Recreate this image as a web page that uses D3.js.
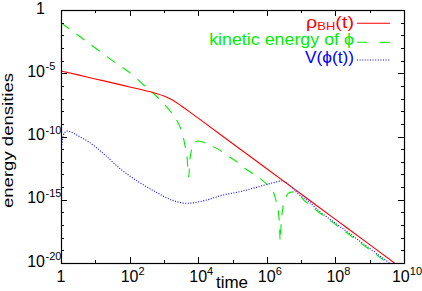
<!DOCTYPE html>
<html>
<head>
<meta charset="UTF-8">
<script src="https://cdnjs.cloudflare.com/ajax/libs/d3/7.8.5/d3.min.js"></script>
<style>
  body { margin: 0; background: #fff; }
  svg text { font-family: "Liberation Sans", Arial, sans-serif; }
</style>
</head>
<body>
<svg id="chart" width="422" height="291"></svg>
<script>
// values, as log10 of time and log10 of energy density
var rhoLogT = [0, 0.5, 1, 1.5, 2, 2.5, 2.75, 3, 3.25, 3.5, 3.75, 4, 5, 6, 7, 8, 9, 9.72];
var rhoLogV = [-4.82, -5.13, -5.45, -5.76, -6.08, -6.4, -6.58, -6.8, -7.12, -7.57, -8.05, -8.55, -10.55, -12.55, -14.55, -16.55, -18.55, -20];

var kinLogT = [0, 0.5, 1, 1.5, 2, 2.5, 2.75, 3, 3.25, 3.42, 3.55, 3.62, 3.68, 3.72, 3.76, 3.82, 3.9, 4, 4.15, 4.3, 4.54, 4.83, 5.12, 5.36, 5.7, 5.95, 6.1, 6.2, 6.28, 6.34, 6.37, 6.39, 6.42, 6.47, 6.55, 6.65, 6.78, 6.92, 7.05, 7.2, 7.5, 8, 8.5, 9, 9.52];
var kinLogV = [-1.02, -2, -3, -4, -4.95, -6.14, -6.74, -7.42, -8.23, -8.96, -9.88, -10.8, -11.8, -13.2, -11.8, -10.9, -10.45, -10.35, -10.45, -10.65, -10.94, -11.46, -11.99, -12.51, -13.12, -13.65, -14.05, -14.45, -15.2, -16, -17, -18.3, -16.8, -15.6, -14.85, -14.45, -14.38, -14.5, -14.95, -15.3, -15.95, -16.95, -17.95, -18.95, -20];

var potLogT = [0, 0.03, 0.07, 0.12, 0.17, 0.26, 0.5, 0.8, 1.28, 1.77, 2.25, 2.74, 3.23, 3.66, 4.25, 4.73, 5.22, 5.7, 6.19, 6.43, 6.55, 6.7, 6.9, 7.2, 7.55, 8, 9, 9.575];
var potLogV = [-11.3, -10.5, -9.9, -9.65, -9.57, -9.62, -9.95, -10.41, -11.46, -12.65, -13.57, -14.36, -15.02, -15.28, -15.02, -14.62, -14.36, -14.02, -13.65, -13.52, -13.6, -13.95, -14.5, -15.1, -15.95, -16.85, -18.85, -20];

var xTickExps = [0, 2, 4, 6, 8, 10];
var yTickExps = [0, -5, -10, -15, -20];

var seriesNames = ["\u03C1", "kinetic energy of \u03D5", "V(\u03D5(t))"];
var seriesColors = ["#ff0000", "#00ee00", "#0000ff"];

var pL = 61, pR = 404, pT = 10, pB = 263;

var svg = d3.select("#chart");

var x = d3.scaleLog().domain([1, 1e10]).range([pL, pR]);
var y = d3.scaleLog().domain([1e-20, 1]).range([pB, pT]);

function pts(lt, lv) {
  return lt.map(function(t, i) { return [Math.pow(10, t), Math.pow(10, lv[i])]; });
}

// stretch a text sideways to a given width, keeping its anchor point
function fitWidth(sel, w, ax) {
  var bw = sel.node().getBBox().width;
  var k = w / bw;
  sel.attr("transform", "translate(" + ax + ",0) scale(" + k + ",1) translate(" + (-ax) + ",0)");
}

var line = d3.line()
  .x(function(d) { return x(d[0]); })
  .y(function(d) { return y(d[1]); })
  .curve(d3.curveMonotoneX);

svg.append("clipPath").attr("id", "clip")
  .append("rect").attr("x", pL).attr("y", pT)
  .attr("width", pR - pL).attr("height", pB - pT);

var plot = svg.append("g").attr("clip-path", "url(#clip)");

plot.append("path").datum(pts(potLogT, potLogV))
  .attr("d", line).attr("fill", "none")
  .attr("stroke", seriesColors[2]).attr("stroke-width", 1.1)
  .attr("stroke-dasharray", "1,1.6");

plot.append("path").datum(pts(kinLogT, kinLogV))
  .attr("d", line).attr("fill", "none")
  .attr("stroke", seriesColors[1]).attr("stroke-width", 1.1)
  .attr("stroke-dasharray", "10,9");

plot.append("path").datum(pts(rhoLogT, rhoLogV))
  .attr("d", line).attr("fill", "none")
  .attr("stroke", seriesColors[0]).attr("stroke-width", 1.1);

// ticks, drawn inward on all four sides
var ax = svg.append("g").attr("stroke", "#000").attr("stroke-width", 1);
for (var e = 0; e <= 10; e++) {
  var len = (e % 2 === 0) ? 6 : 3;
  var xx = Math.round(x(Math.pow(10, e))) + 0.5;
  ax.append("line").attr("x1", xx).attr("x2", xx).attr("y1", pB).attr("y2", pB - len);
  ax.append("line").attr("x1", xx).attr("x2", xx).attr("y1", pT).attr("y2", pT + len);
}
for (var e = 0; e >= -20; e--) {
  var len = (e % 5 === 0) ? 6 : 3;
  var yy = Math.round(y(Math.pow(10, e))) + 0.5;
  ax.append("line").attr("y1", yy).attr("y2", yy).attr("x1", pL).attr("x2", pL + len);
  ax.append("line").attr("y1", yy).attr("y2", yy).attr("x1", pR).attr("x2", pR - len);
}
svg.append("rect").attr("x", pL + 0.5).attr("y", pT + 0.5)
  .attr("width", pR - pL).attr("height", pB - pT)
  .attr("fill", "none").attr("stroke", "#000").attr("stroke-width", 1.2);

// x tick labels
xTickExps.forEach(function(e) {
  var t = svg.append("text")
    .attr("x", x(Math.pow(10, e)) + (e === 0 ? 0 : 3)).attr("y", 282)
    .attr("text-anchor", "middle").attr("font-size", 16);
  if (e === 0) { t.text("1"); return; }
  t.append("tspan").text("10");
  t.append("tspan").attr("dy", -7).attr("font-size", 11).text(e);
});

// y tick labels
yTickExps.forEach(function(e) {
  var yy = y(Math.pow(10, e));
  svg.append("text").attr("x", 45).attr("y", yy + 3.5)
    .attr("text-anchor", "end").attr("font-size", 16)
    .text(e === 0 ? "1" : "10");
  if (e !== 0) {
    svg.append("text").attr("x", 45.5).attr("y", yy - 3)
      .attr("font-size", 11).text("-" + (-e));
  }
});

// axis titles
svg.append("text").attr("x", 232).attr("y", 288)
  .attr("text-anchor", "middle").attr("font-size", 17).text("time");
svg.append("text")
  .attr("transform", "translate(12.7,140.5) rotate(-90)")
  .attr("text-anchor", "middle").attr("font-size", 15.5)
  .attr("textLength", 135).attr("lengthAdjust", "spacingAndGlyphs")
  .text("energy densities");

// legend
var legY = [23.3, 42.3, 60];
var legBase = [28, 45.5, 63.5];
var legW = [48, 145, 49];
var lg = svg.append("g");
var t0 = lg.append("text").attr("x", 354).attr("y", legBase[0])
  .attr("text-anchor", "end").attr("font-size", 16).attr("fill", seriesColors[0]);
t0.append("tspan").text(seriesNames[0]);
t0.append("tspan").attr("dy", 2).attr("font-size", 10.5).text("BH");
t0.append("tspan").attr("dy", -2).text("(t)");
fitWidth(t0, legW[0], 354);
var t1 = lg.append("text").attr("x", 354).attr("y", legBase[1])
  .attr("text-anchor", "end").attr("font-size", 16).attr("fill", seriesColors[1])
  .text(seriesNames[1]);
fitWidth(t1, legW[1], 354);
var t2 = lg.append("text").attr("x", 354).attr("y", legBase[2])
  .attr("text-anchor", "end").attr("font-size", 16).attr("fill", seriesColors[2])
  .text(seriesNames[2]);
fitWidth(t2, legW[2], 354);

lg.append("line").attr("x1", 357).attr("x2", 390).attr("y1", legY[0]).attr("y2", legY[0])
  .attr("stroke", seriesColors[0]).attr("stroke-width", 1.1);
lg.append("line").attr("x1", 357).attr("x2", 390).attr("y1", legY[1]).attr("y2", legY[1])
  .attr("stroke", seriesColors[1]).attr("stroke-width", 1.1).attr("stroke-dasharray", "10,13");
lg.append("line").attr("x1", 357).attr("x2", 390).attr("y1", legY[2]).attr("y2", legY[2])
  .attr("stroke", seriesColors[2]).attr("stroke-width", 1.1).attr("stroke-dasharray", "1,1.6");
</script>
</body>
</html>
